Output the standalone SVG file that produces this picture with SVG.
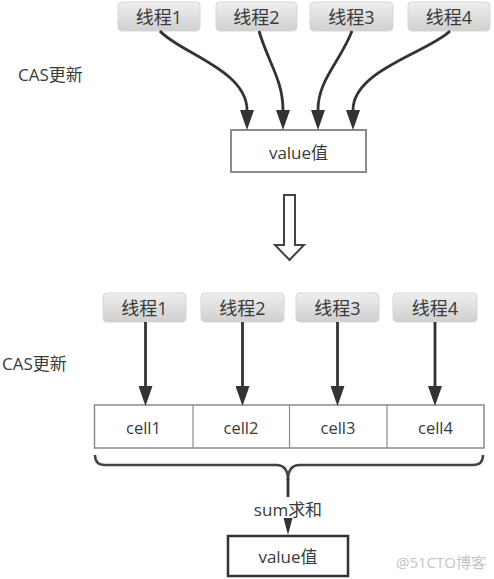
<svg xmlns="http://www.w3.org/2000/svg" width="494" height="579" viewBox="0 0 494 579">
<style>
text{font-family:"Open Sans","Noto Sans CJK SC",sans-serif;font-size:17px;fill:#3a3a3a;dominant-baseline:central}
.c{text-anchor:middle}
.th{font-size:18px}
.cl{font-size:16.5px}
.thread{fill:url(#g);stroke:#d6d6d6;stroke-width:1}
.conn{fill:none;stroke:#333;stroke-width:2.8}
</style>
<defs>
<linearGradient id="g" x1="0" y1="0" x2="0" y2="1">
<stop offset="0" stop-color="#efefef"/>
<stop offset="1" stop-color="#cfcfcf"/>
</linearGradient>
<marker id="ah" viewBox="0 0 20 14" refX="0" refY="7" markerWidth="20" markerHeight="14" markerUnits="userSpaceOnUse" orient="auto">
<path d="M0,0 L20,7 L0,14 z" fill="#333"/>
</marker>
</defs>
<rect width="494" height="579" fill="#fff"/>
<text x="18" y="74">CAS更新</text>
<text x="2" y="363">CAS更新</text>
<g id="t1"><rect class="thread" x="118" y="2" width="82" height="29" rx="4"/><text class="c th" x="159" y="17">线程1</text></g>
<g id="t2"><rect class="thread" x="216" y="2" width="81" height="29" rx="4"/><text class="c th" x="256.5" y="17">线程2</text></g>
<g id="t3"><rect class="thread" x="310" y="2" width="83" height="29" rx="4"/><text class="c th" x="351.5" y="17">线程3</text></g>
<g id="t4"><rect class="thread" x="408" y="2" width="82" height="29" rx="4"/><text class="c th" x="449" y="17">线程4</text></g>
<g id="v1"><rect x="231" y="130" width="135" height="42" fill="#fff" stroke="#8a8a8a" stroke-width="2"/><text class="c" x="298.5" y="152">value值</text></g>
<g id="bigarrow"><polygon points="284,195 295,195 295,245 304,245 289.5,260 275,245 284,245" fill="#fff" stroke="#444" stroke-width="2" stroke-linejoin="miter"/></g>
<g id="b1"><rect class="thread" x="103" y="293" width="83" height="29" rx="4"/><text class="c th" x="144.5" y="308">线程1</text></g>
<g id="b2"><rect class="thread" x="201" y="293" width="83" height="29" rx="4"/><text class="c th" x="242.5" y="308">线程2</text></g>
<g id="b3"><rect class="thread" x="296" y="293" width="83" height="29" rx="4"/><text class="c th" x="337.5" y="308">线程3</text></g>
<g id="b4"><rect class="thread" x="393" y="293" width="84" height="29" rx="4"/><text class="c th" x="435" y="308">线程4</text></g>
<g id="cells">
<rect x="94.5" y="405" width="389.5" height="43" fill="#fff" stroke="#8a8a8a" stroke-width="1.5"/>
<line x1="193" y1="405" x2="193" y2="448" stroke="#8a8a8a" stroke-width="1.2"/>
<line x1="289.5" y1="405" x2="289.5" y2="448" stroke="#8a8a8a" stroke-width="1.2"/>
<line x1="387" y1="405" x2="387" y2="448" stroke="#8a8a8a" stroke-width="1.2"/>
<text class="c cl" x="143.5" y="427">cell1</text>
<text class="c cl" x="241" y="427">cell2</text>
<text class="c cl" x="338" y="427">cell3</text>
<text class="c cl" x="435.5" y="427">cell4</text>
</g>
<g id="v2"><rect x="228" y="536" width="120" height="40" fill="#fff" stroke="#333" stroke-width="2.5"/><text class="c" x="288" y="556">value值</text></g>
<g id="connectors">
<path class="conn" d="M160,31 C178,52 247,70 247,110" marker-end="url(#ah)"/>
<path class="conn" d="M259,31 C268,62 283,80 283,110" marker-end="url(#ah)"/>
<path class="conn" d="M352,31 C340,62 318,80 318,110" marker-end="url(#ah)"/>
<path class="conn" d="M450,31 C429,52 353,70 353,110" marker-end="url(#ah)"/>
<path class="conn" d="M145.5,322 L145.5,386" marker-end="url(#ah)"/>
<path class="conn" d="M242.5,322 L242.5,386" marker-end="url(#ah)"/>
<path class="conn" d="M337.5,322 L337.5,386" marker-end="url(#ah)"/>
<path class="conn" d="M435,322 L435,386" marker-end="url(#ah)"/>
<path d="M95,455 Q95,465 105,465 L276,465 Q288,465 288,480 Q288,465 300,465 L473,465 Q483,465 483,455" fill="none" stroke="#444" stroke-width="2.5"/>
<path d="M288,478 L288,497" fill="none" stroke="#333" stroke-width="2.8"/>
<text class="c" x="288" y="509">sum求和</text>
<polygon points="283.5,518 292.5,518 288,535" fill="#333"/>
</g>
<text x="396" y="562" style="fill:#c4c4c4;font-size:15px">@51CTO博客</text>
</svg>
